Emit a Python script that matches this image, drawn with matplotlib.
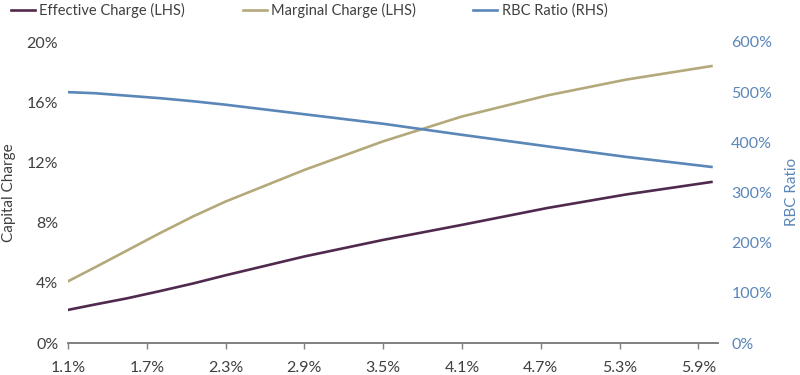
import matplotlib
matplotlib.use("Agg")
import matplotlib.pyplot as plt
from matplotlib import ticker

plt.rcParams['font.family'] = ['Lato', 'DejaVu Sans']

# dane
spread = [1.1, 1.3, 1.55, 1.8, 2.05, 2.3, 2.9, 3.5, 4.1, 4.75, 5.35, 6.0]
effective_charge = [2.2, 2.55, 2.97, 3.45, 3.95, 4.5, 5.75, 6.85, 7.85, 8.97, 9.87, 10.7]
marginal_charge = [4.1, 5.0, 6.15, 7.3, 8.4, 9.4, 11.5, 13.4, 15.05, 16.45, 17.5, 18.4]
rbc_ratio = [500, 498, 493, 488, 482, 475, 456, 437, 415, 392, 371, 351]
x_ticks = [1.1, 1.7, 2.3, 2.9, 3.5, 4.1, 4.7, 5.3, 5.9]

purple = '#4f2a4e'
tan = '#b4a97b'
blue = '#5a86b8'
grey_text = '#404040'

fig = plt.figure(figsize=(8, 3.75), dpi=100)
ax = fig.add_axes([0.085, 0.0853, 0.8125, 0.8027])
ax2 = ax.twinx()

l1, = ax.plot(spread, effective_charge, color=purple, lw=1.9, label='Effective Charge (LHS)')
l2, = ax.plot(spread, marginal_charge, color=tan, lw=1.9, label='Marginal Charge (LHS)')
l3, = ax2.plot(spread, rbc_ratio, color=blue, lw=1.9, label='RBC Ratio (RHS)')

ax.set_xlim(1.1, 6.05)
ax.set_ylim(0, 20)
ax2.set_ylim(0, 600)
ax.set_xticks(x_ticks)
ax.set_yticks(range(0, 21, 4))
ax2.set_yticks(range(0, 601, 100))
ax.xaxis.set_major_formatter(ticker.FormatStrFormatter('%.1f%%'))
ax.yaxis.set_major_formatter(ticker.FormatStrFormatter('%d%%'))
ax2.yaxis.set_major_formatter(ticker.FormatStrFormatter('%d%%'))

for a in (ax, ax2):
    for s in ('top', 'left', 'right'):
        a.spines[s].set_visible(False)
    a.spines['bottom'].set_color('#7f7f7f')
    a.spines['bottom'].set_linewidth(1.2)

ax.tick_params(axis='x', direction='out', length=4, width=1, color='#7f7f7f',
               labelsize=11.5, labelcolor=grey_text, pad=9)
ax.tick_params(axis='y', length=0, labelsize=11.5, labelcolor=grey_text, pad=7)
ax2.tick_params(axis='y', length=0, labelsize=11.5, labelcolor=blue, pad=9.5)

# opisy osi
fig.text(9 / 800, 0.487, 'Capital Charge', rotation=90, ha='center', va='center',
         fontsize=11, color=grey_text)
fig.text(792 / 800, 0.487, 'RBC Ratio', rotation=90, ha='center', va='center',
         fontsize=11, color=blue)

leg = fig.legend(handles=[l1, l2, l3], loc='upper left', bbox_to_anchor=(-0.003, 1.027),
                 ncol=3, frameon=False, fontsize=10.5, handlelength=1.65, handletextpad=0.3,
                 columnspacing=3.95)
for t in leg.get_texts():
    t.set_color(grey_text)

fig.savefig('out.png', dpi=100)
